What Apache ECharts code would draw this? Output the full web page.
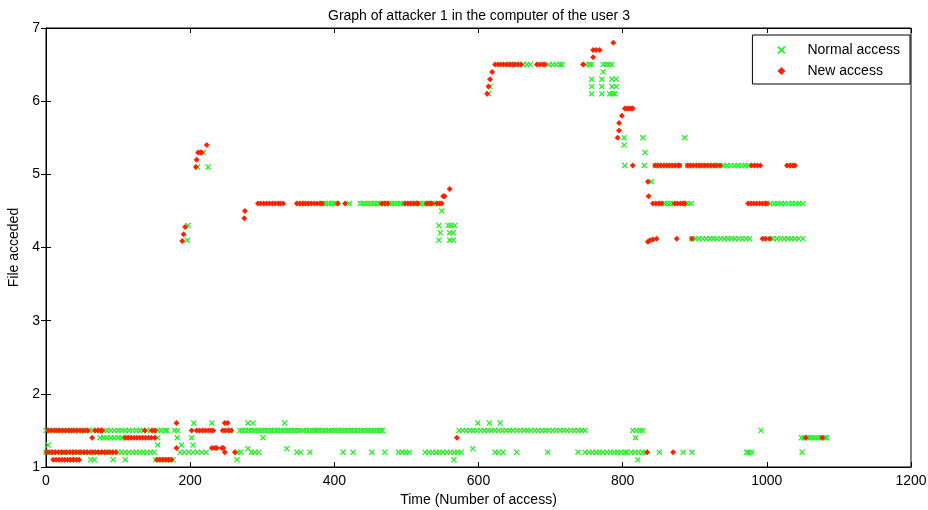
<!DOCTYPE html>
<html><head><meta charset="utf-8">
<script src="https://cdn.jsdelivr.net/npm/echarts@6/dist/echarts.min.js"></script>
<style>html,body{margin:0;padding:0;background:#fff}#c{width:928px;height:510px}</style>
</head><body><div id="c"></div>
<script>
// ---- tick labels ----
const xTicks = [0, 200, 400, 600, 800, 1000, 1200];
const yTicks = [1, 2, 3, 4, 5, 6, 7];

// ---- Normal access (green x) : x positions grouped by file level ----
const normal_1_1 = [36,40,62,67,93,110,152,156,160,164,168,172,176,265,566,821];
const normal_1_2 = [0,5,10,15,20,25,30,35,40,45,50,55,60,65,70,75,80,85,90,95,100,105,110,115,120,125,130,135,140,145,150,
  186,192,198,204,210,216,222,266,270,285,290,295,348,353,366,412,426,452,470,489,494,499,504,
  526,531,536,541,546,551,556,561,566,571,576,623,628,634,653,696,738,
  748,753,758,763,768,773,778,783,788,793,798,803,806,812,817,822,827,831,851,884,896,972,975,979,1049];
const normal_1_25 = [280,334,592];
const normal_1_3 = [3,155,188,204];
const normal_1_4 = [75,80,85,90,95,100,105,110,112,155,182,202,301,818,
  1048,1052,1056,1060,1064,1068,1072,1076,1080,1083];
const normal_1_5 = [0,5,10,15,20,25,30,35,40,45,50,55,60,65,70,75,80,85,90,95,100,105,110,115,120,125,130,135,140,145,150,155,160,165,168,
  178,183,251,256,269,273,277,281,285,289,293,297,301,305,309,313,317,321,325,329,333,337,341,345,349,352,
  357,361,365,369,373,376,380,384,388,392,396,400,404,408,412,416,420,424,428,432,436,440,444,448,452,456,460,464,467,
  573,578,583,588,593,598,603,608,613,618,623,628,633,638,643,648,653,658,663,668,673,678,683,688,693,698,703,708,713,718,723,728,733,738,743,748,
  814,819,824,828,992];
const normal_1_6 = [205,230,280,287,331,599,615,630];
// upper normal points [time, file]
const normal_upper = [
  [196,4.1],[197,4.3],[210,5.1],[218,5.3],[225,5.1],
  [350,4.6],[355,4.6],[360,4.6],[384,4.6],[388,4.6],[392,4.6],[396,4.6],[400,4.6],[403,4.6],[421,4.6],
  [436,4.6],[440,4.6],[444,4.6],[448,4.6],[452,4.6],[456,4.6],[460,4.6],[464,4.6],[468,4.6],[472,4.6],[476,4.6],[480,4.6],
  [484,4.6],[488,4.6],[492,4.6],[496,4.6],[500,4.6],[504,4.6],[508,4.6],[512,4.6],[516,4.6],[520,4.6],[524,4.6],[528,4.6],
  [532,4.6],[536,4.6],[540,4.6],[545,4.6],
  [549,4.5],[545,4.3],[558,4.3],[562,4.3],[567,4.3],[547,4.2],[560,4.2],[565,4.2],[545,4.1],[560,4.1],[565,4.1],
  [614,6.1],[616,6.2],
  [637,6.5],[642,6.5],[647,6.5],[652,6.5],[657,6.5],[662,6.5],[667,6.5],[672,6.5],[698,6.5],[703,6.5],[708,6.5],[713,6.5],[716,6.5],
  [749,6.5],[754,6.5],[757,6.5],[773,6.5],[777,6.5],[781,6.5],[785,6.5],[773,6.4],
  [757,6.3],[771,6.3],[785,6.3],[791,6.3],[757,6.2],[771,6.2],[785,6.2],[791,6.2],
  [757,6.1],[771,6.1],[782,6.1],[786,6.1],[789,6.1],
  [802,5.5],[828,5.5],[886,5.5],[802,5.4],[831,5.3],[803,5.12],[830,5.12],
  [845,5.12],[850,5.12],[855,5.12],[860,5.12],[865,5.12],[870,5.12],[875,5.12],[879,5.12],
  [890,5.12],[895,5.12],[900,5.12],[905,5.12],[910,5.12],[915,5.12],[920,5.12],[925,5.12],[930,5.12],[935,5.12],[940,5.12],
  [945,5.12],[950,5.12],[955,5.12],[960,5.12],[965,5.12],[970,5.12],[974,5.12],[1030,5.12],[1036,5.12],
  [840,4.9],[854,4.6],[858,4.6],[862,4.6],[866,4.6],[870,4.6],[886,4.6],[890,4.6],[895,4.6],
  [1000,4.6],[1005,4.6],[1010,4.6],[1015,4.6],[1020,4.6],[1025,4.6],[1030,4.6],[1035,4.6],[1040,4.6],[1045,4.6],[1050,4.6],
  [896,4.12],[901,4.12],[906,4.12],[911,4.12],[916,4.12],[921,4.12],[926,4.12],[931,4.12],[936,4.12],[941,4.12],[946,4.12],
  [951,4.12],[956,4.12],[961,4.12],[966,4.12],[971,4.12],[976,4.12],
  [1004,4.12],[1009,4.12],[1014,4.12],[1019,4.12],[1024,4.12],[1029,4.12],[1034,4.12],[1039,4.12],[1044,4.12],[1050,4.12]
];

// ---- New access (red dots) ----
const new_1_1 = [10,14,18,22,26,30,34,38,42,46,154,158,162,166,170,174];
const new_1_2 = [1,5,9,13,17,21,25,29,33,37,41,45,49,53,57,61,65,69,73,77,81,85,89,93,97,248,262,834,870];
const new_1_25 = [181,230,234,237,244,246];
const new_1_4 = [64,110,114,118,122,126,130,134,138,142,146,151,570,1054,1077];
const new_1_5 = [3,7,11,15,19,23,27,31,35,39,43,47,51,55,58,68,72,76,78,137,147,151,
  202,209,213,217,221,225,229,232,245,249,253,257];
const new_1_6 = [181,248,252];
const new_upper = [
  [189,4.09],[191,4.18],[193,4.28],[208,5.1],[209,5.2],[211,5.3],[214,5.3],[216,5.3],[223,5.4],[275,4.4],[276,4.5],
  [294,4.6],[298,4.6],[302,4.6],[306,4.6],[310,4.6],[314,4.6],[318,4.6],[322,4.6],[325,4.6],[329,4.6],
  [348,4.6],[352,4.6],[356,4.6],[360,4.6],[364,4.6],[368,4.6],[372,4.6],[376,4.6],[380,4.6],[383,4.6],[405,4.6],[415,4.6],
  [466,4.6],[470,4.6],[474,4.6],[498,4.6],[502,4.6],[506,4.6],[510,4.6],[514,4.6],[516,4.6],[528,4.6],[532,4.6],[535,4.6],
  [542,4.6],[546,4.6],[549,4.6],[551,4.7],[553,4.7],[560,4.8],
  [612,6.1],[614,6.2],[616,6.3],[619,6.4],
  [623,6.5],[627,6.5],[631,6.5],[635,6.5],[639,6.5],[643,6.5],[647,6.5],[651,6.5],[655,6.5],[659,6.5],
  [681,6.5],[685,6.5],[689,6.5],[692,6.5],[745,6.5],
  [759,6.6],[759,6.7],[763,6.7],[768,6.7],[787,6.8],
  [803,5.9],[806,5.9],[809,5.9],[812,5.9],[814,5.9],[799,5.8],[795,5.7],[795,5.6],[793,5.5],
  [814,5.12],[845,5.12],[849,5.12],[853,5.12],[857,5.12],[861,5.12],[865,5.12],[869,5.12],[873,5.12],[877,5.12],[879,5.12],
  [890,5.12],[894,5.12],[898,5.12],[902,5.12],[906,5.12],[910,5.12],[914,5.12],[918,5.12],[922,5.12],[926,5.12],[930,5.12],[935,5.12],
  [979,5.12],[983,5.12],[987,5.12],[991,5.12],[1028,5.12],[1032,5.12],[1036,5.12],[1039,5.12],
  [835,4.9],[836,4.7],
  [842,4.6],[846,4.6],[850,4.6],[854,4.6],[872,4.6],[876,4.6],[880,4.6],[884,4.6],[886,4.6],
  [974,4.6],[978,4.6],[982,4.6],[986,4.6],[990,4.6],[994,4.6],[998,4.6],[1000,4.6],
  [835,4.08],[838,4.1],[842,4.11],[847,4.12],[875,4.12],[896,4.12],[994,4.12],[998,4.12],[1004,4.12]
];

function level(xs, y) { return xs.map(x => [x, y]); }
const normalData = [].concat(
  level(normal_1_1, 1.1), level(normal_1_2, 1.2), level(normal_1_25, 1.25), level(normal_1_3, 1.3),
  level(normal_1_4, 1.4), level(normal_1_5, 1.5), level(normal_1_6, 1.6), normal_upper);
const newData = [].concat(
  level(new_1_1, 1.1), level(new_1_2, 1.2), level(new_1_25, 1.26), level(new_1_4, 1.4),
  level(new_1_5, 1.5), level(new_1_6, 1.6), new_upper);

const GREEN = '#22f022';
const RED = '#ff2200';
const XSYM = 'path://M0,1.5L1.5,0L5,3.5L8.5,0L10,1.5L6.5,5L10,8.5L8.5,10L5,6.5L1.5,10L0,8.5L3.5,5Z';
const FONT = 'Liberation Sans, Arial, sans-serif';
const FS = 14;

const chart = echarts.init(document.getElementById('c'), null, {renderer: 'canvas'});
const axCommon = {
  min: 0, axisLine: {show: true, lineStyle: {color: '#000', width: 1}},
  axisTick: {show: true, inside: true, length: 5, lineStyle: {color: '#000'}},
  splitLine: {show: false}
};
chart.setOption({
  animation: false,
  backgroundColor: '#fff',
  title: {text: 'Graph of attacker 1 in the computer of the user 3', left: 323, top: 4,
    textStyle: {fontSize: FS, fontWeight: 'normal', color: '#000', fontFamily: FONT}},
  grid: {left: 46, right: 17, top: 28, bottom: 43, outerBoundsMode: 'none', containLabel: false,
    show: true, borderColor: '#000', borderWidth: 1, backgroundColor: '#fff'},
  legend: {
    right: 18, top: 35, orient: 'vertical', backgroundColor: '#fff', borderColor: '#000', borderWidth: 1,
    padding: [8, 10, 6, 25], itemGap: 7, itemWidth: 8, itemHeight: 8,
    textStyle: {fontSize: FS, color: '#000', fontFamily: FONT, padding: [0, 0, 0, 17]},
    data: [{name: 'Normal access', icon: XSYM}, {name: 'New access', icon: 'diamond'}]
  },
  xAxis: [
    Object.assign({}, axCommon, {type: 'value', max: 1200, interval: 200, position: 'bottom',
      name: 'Time (Number of access)', nameLocation: 'middle', nameGap: 25,
      nameTextStyle: {fontSize: FS, color: '#000', fontFamily: FONT},
      axisLabel: {color: '#000', fontSize: FS, fontFamily: FONT, margin: 7, formatter: v => xTicks.includes(v) ? String(v) : ''}}),
    Object.assign({}, axCommon, {type: 'value', max: 1200, interval: 200, position: 'top', axisLabel: {show: false}})
  ],
  yAxis: [
    Object.assign({}, axCommon, {type: 'value', min: 1, max: 7, interval: 1, position: 'left',
      name: 'File acceded', nameLocation: 'middle', nameGap: 17,
      nameTextStyle: {fontSize: FS, color: '#000', fontFamily: FONT},
      axisLabel: {color: '#000', fontSize: FS, fontFamily: FONT, margin: 6, formatter: v => yTicks.includes(v) ? String(v) : ''}}),
    Object.assign({}, axCommon, {type: 'value', min: 1, max: 7, interval: 1, position: 'right', axisLabel: {show: false}})
  ],
  series: [
    {name: 'Normal access', type: 'scatter', xAxisIndex: 0, yAxisIndex: 0, data: normalData,
      symbol: XSYM, symbolSize: 6, itemStyle: {color: GREEN, opacity: 1}, z: 2},
    {name: 'New access', type: 'scatter', xAxisIndex: 0, yAxisIndex: 0, data: newData,
      symbol: 'diamond', symbolSize: 6, itemStyle: {color: RED, opacity: 1}, z: 3}
  ]
});
</script></body></html>
